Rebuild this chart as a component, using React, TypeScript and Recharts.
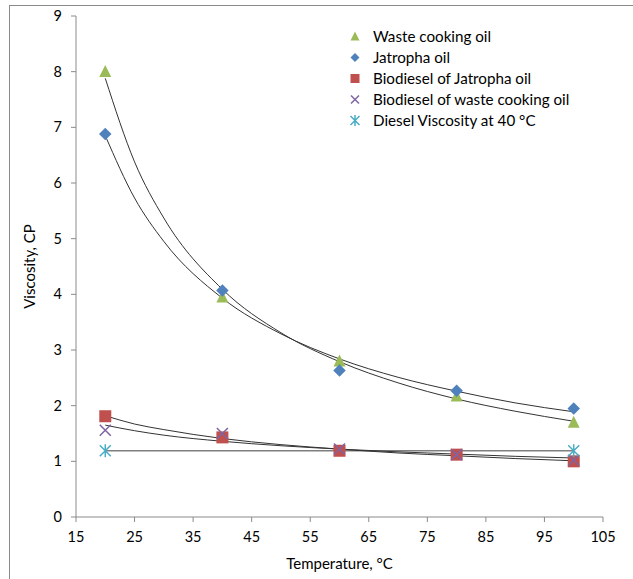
import { ComposedChart, Scatter, Line, XAxis, YAxis, Legend } from 'recharts'

// measured values, viscosity in CP
const temps = [20, 40, 60, 80, 100]
const wasteOil = [8.0, 3.95, 2.8, 2.17, 1.7]
const jatrophaOil = [6.88, 4.07, 2.63, 2.27, 1.95]
const biodieselJatropha = [1.81, 1.43, 1.19, 1.12, 1.0]
const biodieselWaste = [1.56, 1.5, 1.22, 1.12, 1.02]
const dieselTemps = [20, 100]
const dieselVisc = [1.19, 1.19]

// trendline samples
const trendTemps = [20, 25, 30, 40, 50, 60, 70, 80, 90, 100]
const wasteTrend = [7.88, 6.38, 5.37, 4.09, 3.31, 2.79, 2.41, 2.12, 1.9, 1.72]
const jatrophaTrend = [6.85, 5.73, 4.95, 3.93, 3.29, 2.84, 2.51, 2.26, 2.05, 1.89]
const bioJatTrend = [1.82, 1.67, 1.57, 1.41, 1.3, 1.22, 1.15, 1.1, 1.05, 1.01]
const bioWasteTrend = [1.65, 1.55, 1.47, 1.36, 1.28, 1.22, 1.17, 1.13, 1.09, 1.06]

const xTicks = [15, 25, 35, 45, 55, 65, 75, 85, 95, 105]
const yTicks = [0, 1, 2, 3, 4, 5, 6, 7, 8, 9]

const seriesNames = [
  'Waste cooking oil',
  'Jatropha oil',
  'Biodiesel of Jatropha oil',
  'Biodiesel of waste cooking oil',
  'Diesel Viscosity at 40 °C',
]

const FONT = 'Lato, "Open Sans", sans-serif'
const GREEN = '#9bbb59'
const BLUE = '#4f81bd'
const RED = '#c0504d'
const PURPLE = '#8064a2'
const CYAN = '#4bacc6'

const pts = (xs: number[], ys: number[]) => xs.map((t, i) => ({ t, v: ys[i] }))

const triangle = (s: number) => (p: any) => (
  <polygon points={`${p.cx},${p.cy - s * 0.55} ${p.cx + s / 2},${p.cy + s * 0.45} ${p.cx - s / 2},${p.cy + s * 0.45}`} fill={GREEN} />
)
const diamond = (s: number) => (p: any) => (
  <polygon points={`${p.cx},${p.cy - s / 2} ${p.cx + s / 2},${p.cy} ${p.cx},${p.cy + s / 2} ${p.cx - s / 2},${p.cy}`} fill={BLUE} />
)
const square = (s: number) => (p: any) => (
  <rect x={p.cx - s / 2} y={p.cy - s / 2} width={s} height={s} fill={RED} />
)
const cross = (s: number) => (p: any) => (
  <path d={`M${p.cx - s / 2},${p.cy - s / 2}L${p.cx + s / 2},${p.cy + s / 2}M${p.cx + s / 2},${p.cy - s / 2}L${p.cx - s / 2},${p.cy + s / 2}`} stroke={PURPLE} strokeWidth={1.5} fill="none" />
)
const star = (s: number) => (p: any) => (
  <path
    d={`M${p.cx - s / 2},${p.cy - s / 2}L${p.cx + s / 2},${p.cy + s / 2}M${p.cx + s / 2},${p.cy - s / 2}L${p.cx - s / 2},${p.cy + s / 2}M${p.cx},${p.cy - s * 0.6}L${p.cx},${p.cy + s * 0.6}`}
    stroke={CYAN}
    strokeWidth={1.5}
    fill="none"
  />
)

const legendIcons = [triangle(9), diamond(9), square(9), cross(8), star(9)]

function LegendBox() {
  return (
    <div style={{ fontFamily: FONT, fontSize: 15.2, color: '#000' }}>
      {seriesNames.map((name, i) => (
        <div key={name} style={{ display: 'flex', alignItems: 'center', height: 21 }}>
          <svg width={20} height={21}>
            {legendIcons[i]({ cx: 10, cy: 10.5 })}
          </svg>
          <span style={{ marginLeft: 8, lineHeight: '21px', whiteSpace: 'nowrap' }}>{name}</span>
        </div>
      ))}
    </div>
  )
}

const tickStyle = { fill: '#000', fontSize: 14.5, fontFamily: FONT }

export default function App() {
  return (
    <div style={{ position: 'absolute', left: 0, top: 0, width: 633, height: 579, overflow: 'hidden', background: '#fff' }}>
      <div style={{ position: 'absolute', left: 9, top: 5, width: 700, height: 700, border: '1.5px solid #8a8a8a' }} />
      <div style={{ position: 'absolute', left: 0, top: 0 }}>
        <ComposedChart width={633} height={579} margin={{ top: 16, right: 30, left: 0, bottom: 0 }}>
          <XAxis
            type="number"
            dataKey="t"
            domain={[15, 105]}
            ticks={xTicks}
            height={62}
            tick={tickStyle}
            tickSize={5}
            tickMargin={10}
            stroke="#8a8a8a"
            label={{ value: 'Temperature, °C', position: 'insideBottom', offset: 10, fill: '#000', fontSize: 15, fontFamily: FONT }}
          />
          <XAxis xAxisId="top" orientation="top" type="number" domain={[15, 105]} height={0} tick={false} tickLine={false} stroke="#c8c8c8" />
          <YAxis
            type="number"
            domain={[0, 9]}
            ticks={yTicks}
            width={76}
            tick={tickStyle}
            tickSize={5}
            tickMargin={9}
            stroke="#8a8a8a"
            label={{ value: 'Viscosity, CP', angle: -90, position: 'center', dx: -8, fill: '#000', fontSize: 15, fontFamily: FONT }}
          />
          <YAxis yAxisId="right" orientation="right" domain={[0, 9]} width={0} tick={false} tickLine={false} stroke="#c8c8c8" />
          <Legend
            layout="vertical"
            align="center"
            verticalAlign="middle"
            content={() => <LegendBox />}
            wrapperStyle={{ position: 'absolute', left: 345, top: 26, width: 260 }}
          />

          <Scatter name={seriesNames[0]} data={pts(temps, wasteOil)} dataKey="v" shape={triangle(12)} isAnimationActive={false} />
          <Scatter name={seriesNames[1]} data={pts(temps, jatrophaOil)} dataKey="v" shape={diamond(12.5)} isAnimationActive={false} />
          <Scatter name={seriesNames[2]} data={pts(temps, biodieselJatropha)} dataKey="v" shape={square(12)} isAnimationActive={false} />
          <Scatter name={seriesNames[3]} data={pts(temps, biodieselWaste)} dataKey="v" shape={cross(11)} isAnimationActive={false} />
          <Scatter name={seriesNames[4]} data={pts(dieselTemps, dieselVisc)} dataKey="v" shape={star(11)} isAnimationActive={false} />

          <Line data={pts(dieselTemps, dieselVisc)} dataKey="v" type="linear" stroke="#7f7f7f" strokeWidth={1.5} dot={false} isAnimationActive={false} legendType="none" />
          <Line data={pts(trendTemps, wasteTrend)} dataKey="v" type="monotone" stroke="#333" strokeWidth={1} dot={false} isAnimationActive={false} legendType="none" />
          <Line data={pts(trendTemps, jatrophaTrend)} dataKey="v" type="monotone" stroke="#333" strokeWidth={1} dot={false} isAnimationActive={false} legendType="none" />
          <Line data={pts(trendTemps, bioJatTrend)} dataKey="v" type="monotone" stroke="#333" strokeWidth={1} dot={false} isAnimationActive={false} legendType="none" />
          <Line data={pts(trendTemps, bioWasteTrend)} dataKey="v" type="monotone" stroke="#333" strokeWidth={1} dot={false} isAnimationActive={false} legendType="none" />
        </ComposedChart>
      </div>
    </div>
  )
}
